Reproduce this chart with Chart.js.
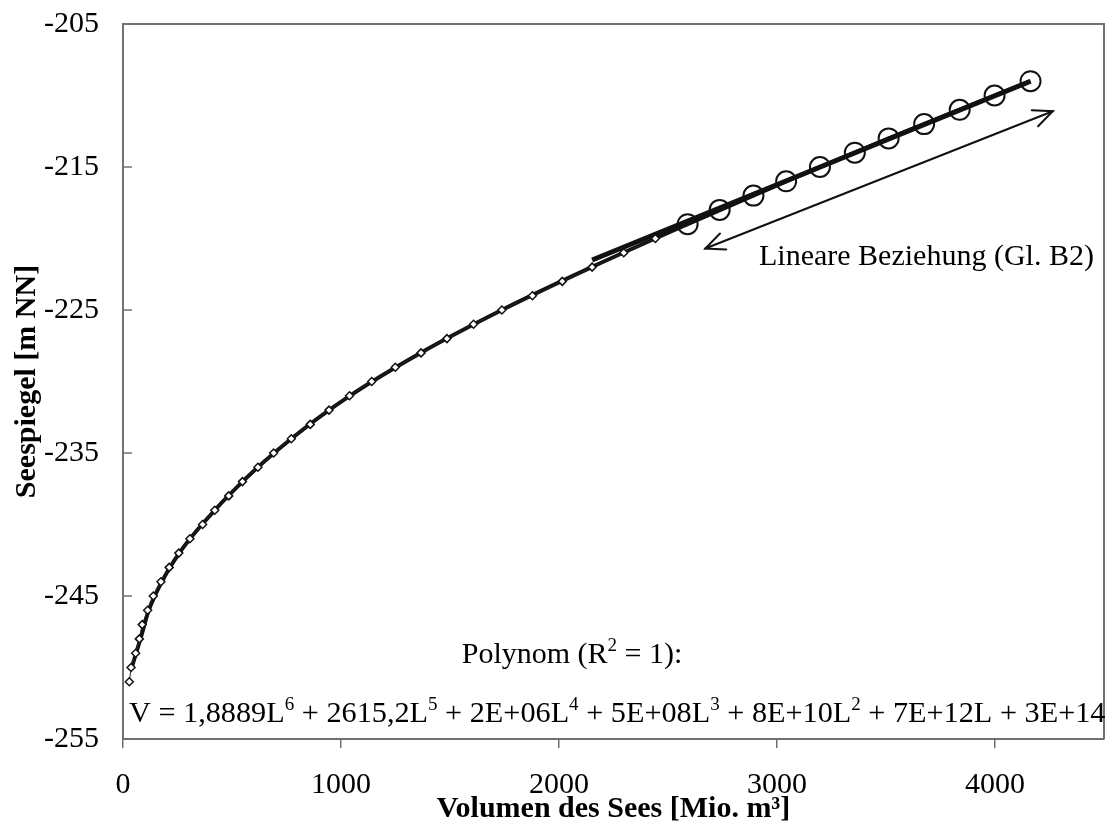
<!DOCTYPE html>
<html>
<head>
<meta charset="utf-8">
<script src="https://cdn.jsdelivr.net/npm/chart.js@4.4.1/dist/chart.umd.min.js"></script>
<style>
  html, body { margin: 0; padding: 0; background: #ffffff; }
  #wrap { width: 1116px; height: 824px; }
</style>
</head>
<body>
<div id="wrap"><canvas id="c" width="1116" height="824"></canvas></div>
<script>
// ---- data ----
const diamondLevel = [-251,-250,-249,-248,-247,-246,-245,-244,-243,-242,-241,-240,-239,-238,-237,-236,-235,-234,-233,-232,-231,-230,-229,-228,-227,-226,-225,-224,-223,-222,-221,-220];
const diamondVol   = [29,37,58,75,88,113,139,174,212,256,307,365,421,485,548,619,691,772,859,945,1039,1141,1249,1367,1486,1608,1738,1878,2015,2152,2297,2442];

const circleLevel = [-219,-218,-217,-216,-215,-214,-213,-212,-211,-210,-209];
const circleVol   = [2590,2737,2892,3042,3197,3357,3512,3675,3838,3998,4163];

const polyLevel = [-250,-248,-246,-244,-242,-240,-237,-234,-231,-228,-225,-222,-219,-216,-213,-209];
const polyVol   = [40,80,118,178,258,362,548,772,1040,1365,1738,2150,2590,3042,3512,4163];

const linLevel = [-221.5,-209];
const linVol   = [2152,4163];

const arrowLevel = [-220.7,-211.1];
const arrowVol   = [2671,4265];

const xTicks = [0,1000,2000,3000,4000];
const yTicks = [-255,-245,-235,-225,-215,-205];

const xTitle = 'Volumen des Sees [Mio. m³]';
const yTitle = 'Seespiegel [m NN]';
const linText = 'Lineare Beziehung (Gl. B2)';
const polyTitle = [['Polynom (R',false],['2',true],[' = 1):',false]];
const polyEq = [['V = 1,8889L',false],['6',true],[' + 2615,2L',false],['5',true],[' + 2E+06L',false],['4',true],
  [' + 5E+08L',false],['3',true],[' + 8E+10L',false],['2',true],[' + 7E+12L + 3E+14',false]];

function pts(xs, ys){ return xs.map((x,i)=>({x:x, y:ys[i]})); }

const SERIF = '"Liberation Serif","Times New Roman",serif';
const AXC = '#707070';

function richWidth(ctx, segs, size){
  let w = 0;
  segs.forEach(([t,sup])=>{ ctx.font = (sup? Math.round(size*0.62): size) + 'px ' + SERIF; w += ctx.measureText(t).width; });
  return w;
}
function drawRich(ctx, segs, x, y, size, align){
  const w = richWidth(ctx, segs, size);
  let cx = align === 'center' ? x - w/2 : x;
  ctx.textBaseline = 'alphabetic';
  ctx.textAlign = 'left';
  segs.forEach(([t,sup])=>{
    ctx.font = (sup? Math.round(size*0.62): size) + 'px ' + SERIF;
    ctx.fillText(t, cx, sup ? y - size*0.40 : y);
    cx += ctx.measureText(t).width;
  });
}

const decor = {
  id: 'decor',
  afterDraw(chart){
    const ctx = chart.ctx, xs = chart.scales.x, ys = chart.scales.y, a = chart.chartArea;
    ctx.save();
    // frame top/right
    ctx.strokeStyle = AXC; ctx.lineWidth = 2;
    ctx.beginPath();
    ctx.moveTo(a.left, a.top); ctx.lineTo(a.right, a.top); ctx.lineTo(a.right, a.bottom);
    ctx.stroke();
    // inner y ticks
    ctx.lineWidth = 1.5;
    yTicks.forEach(v=>{
      const py = ys.getPixelForValue(v);
      ctx.beginPath(); ctx.moveTo(a.left, py); ctx.lineTo(a.left+9, py); ctx.stroke();
    });
    // arrow
    const x1 = xs.getPixelForValue(arrowVol[0]), y1 = ys.getPixelForValue(arrowLevel[0]);
    const x2 = xs.getPixelForValue(arrowVol[1]), y2 = ys.getPixelForValue(arrowLevel[1]);
    ctx.strokeStyle = '#111'; ctx.lineWidth = 2; ctx.lineCap = 'round';
    ctx.beginPath(); ctx.moveTo(x1,y1); ctx.lineTo(x2,y2); ctx.stroke();
    const ang = Math.atan2(y2-y1, x2-x1), hl = 21, ha = 0.42;
    [[x2,y2,ang+Math.PI],[x1,y1,ang]].forEach(([tx,ty,b])=>{
      ctx.beginPath();
      ctx.moveTo(tx + hl*Math.cos(b+ha), ty + hl*Math.sin(b+ha));
      ctx.lineTo(tx,ty);
      ctx.lineTo(tx + hl*Math.cos(b-ha), ty + hl*Math.sin(b-ha));
      ctx.stroke();
    });
    // texts
    ctx.fillStyle = '#000';
    ctx.font = '30px ' + SERIF;
    ctx.textAlign = 'left'; ctx.textBaseline = 'alphabetic';
    ctx.fillText(linText, 759, 265);
    drawRich(ctx, polyTitle, 572, 663, 30, 'center');
    drawRich(ctx, polyEq, 129, 722, 30.25, 'left');
    ctx.restore();
  }
};

new Chart(document.getElementById('c'), {
  type: 'scatter',
  data: {
    datasets: [
      { label: 'Messwerte obere', data: pts(circleVol, circleLevel), showLine: false,
        pointStyle: 'circle', pointRadius: 10, pointBorderWidth: 2,
        pointBackgroundColor: 'rgba(0,0,0,0)', pointBorderColor: '#111', order: 0 },
      { label: 'Messwerte', data: pts(diamondVol, diamondLevel), showLine: true,
        borderColor: '#222', borderWidth: 1,
        pointStyle: 'rectRot', pointRadius: 4, pointBorderWidth: 1.5,
        pointBackgroundColor: '#fff', pointBorderColor: '#111', order: 1 },
      { label: 'Linear', data: pts(linVol, linLevel), showLine: true,
        borderColor: '#111', borderWidth: 5, pointRadius: 0, order: 2 },
      { label: 'Polynom', data: pts(polyVol, polyLevel), showLine: true,
        borderColor: '#111', borderWidth: 4, pointRadius: 0,
        cubicInterpolationMode: 'monotone', order: 3 }
    ]
  },
  options: {
    responsive: false,
    animation: false,
    devicePixelRatio: 1,
    layout: { padding: { top: 24, right: 8, left: 0, bottom: 0 } },
    plugins: { legend: { display: false }, tooltip: { enabled: false } },
    scales: {
      x: {
        type: 'linear', min: 0, max: 4500,
        afterBuildTicks: s => { s.ticks = xTicks.map(v=>({value:v})); },
        afterFit: s => { s.height = 85; s.paddingLeft = 0; s.paddingRight = 0; },
        grid: { display: true, drawOnChartArea: false, drawTicks: true, tickLength: 9, color: AXC, lineWidth: 1.5 },
        border: { display: true, color: AXC, width: 2 },
        ticks: { color: '#000', padding: 19, maxRotation: 0, callback: v => String(v),
          font: { family: SERIF, size: 30 } },
        title: { display: true, text: xTitle, color: '#000', padding: { top: 0, bottom: 0 },
          font: { family: SERIF, size: 30, weight: 'bold', lineHeight: 1 } }
      },
      y: {
        type: 'linear', min: -255, max: -205,
        afterBuildTicks: s => { s.ticks = yTicks.map(v=>({value:v})); },
        afterFit: s => { s.width = 123; s.paddingTop = 0; s.paddingBottom = 0; },
        grid: { display: true, drawOnChartArea: false, drawTicks: false },
        border: { display: true, color: AXC, width: 2 },
        ticks: { color: '#000', padding: 24, callback: v => String(v), font: { family: SERIF, size: 30 } },
        title: { display: true, text: yTitle, color: '#000', padding: { top: 12, bottom: 0 },
          font: { family: SERIF, size: 30, weight: 'bold', lineHeight: 1 } }
      }
    }
  },
  plugins: [decor]
});
</script>
</body>
</html>
